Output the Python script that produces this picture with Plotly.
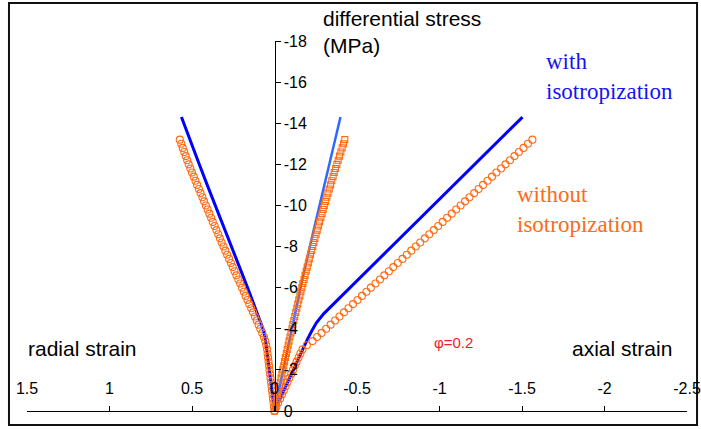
import plotly.graph_objects as go

# ---- triaxial loading, without isotropization (dense model output) ----
# differential stress at each step (MPa, compression negative)
stress_without = [
    0, -0.2, -0.4, -0.6, -0.8, -1.0, -1.2, -1.4, -1.6, -1.8,
    -2.0, -2.2, -2.4, -2.6, -2.8, -3.0, -3.2, -3.4, -3.6, -3.8,
    -4.0, -4.2, -4.4, -4.6, -4.8, -5.0, -5.2, -5.4, -5.6, -5.8,
    -6.0, -6.2, -6.4, -6.6, -6.8, -7.0, -7.2, -7.4, -7.6, -7.8,
    -8.0, -8.2, -8.4, -8.6, -8.8, -9.0, -9.2, -9.4, -9.6, -9.8,
    -10.0, -10.2, -10.4, -10.6, -10.8, -11.0, -11.2, -11.4, -11.6, -11.8,
    -12.0, -12.2, -12.4, -12.6, -12.8, -13.0, -13.2,
]
radial_without = [
    0, 0.003, 0.006, 0.009, 0.012, 0.015, 0.018, 0.021, 0.024, 0.027,
    0.030, 0.033, 0.036, 0.039, 0.042, 0.045, 0.050, 0.056, 0.064, 0.074,
    0.086, 0.097, 0.108, 0.119, 0.130, 0.141, 0.153, 0.164, 0.175, 0.186,
    0.197, 0.208, 0.219, 0.231, 0.242, 0.253, 0.264, 0.275, 0.287, 0.298,
    0.309, 0.320, 0.331, 0.341, 0.352, 0.363, 0.374, 0.384, 0.395, 0.405,
    0.416, 0.427, 0.437, 0.448, 0.458, 0.469, 0.479, 0.489, 0.500, 0.510,
    0.520, 0.529, 0.538, 0.547, 0.556, 0.565, 0.574,
]
volumetric_without = [
    0, -0.005, -0.010, -0.015, -0.019, -0.024, -0.030, -0.035, -0.040, -0.045,
    -0.050, -0.056, -0.061, -0.066, -0.072, -0.077, -0.083, -0.088, -0.094, -0.100,
    -0.106, -0.111, -0.117, -0.123, -0.129, -0.135, -0.141, -0.147, -0.154, -0.160,
    -0.166, -0.172, -0.179, -0.185, -0.192, -0.198, -0.205, -0.211, -0.218, -0.225,
    -0.232, -0.238, -0.245, -0.252, -0.259, -0.266, -0.273, -0.281, -0.288, -0.295,
    -0.302, -0.310, -0.317, -0.324, -0.332, -0.340, -0.347, -0.355, -0.362, -0.370,
    -0.378, -0.386, -0.394, -0.402, -0.410, -0.418, -0.426,
]
axial_without = [
    0, -0.011, -0.022, -0.034, -0.045, -0.056, -0.067, -0.078, -0.090, -0.101,
    -0.112, -0.123, -0.134, -0.146, -0.157, -0.170, -0.196, -0.231, -0.258, -0.285,
    -0.313, -0.340, -0.367, -0.394, -0.421, -0.448, -0.476, -0.503, -0.530, -0.557,
    -0.584, -0.612, -0.639, -0.666, -0.693, -0.720, -0.747, -0.775, -0.802, -0.829,
    -0.856, -0.883, -0.911, -0.938, -0.965, -0.992, -1.019, -1.046, -1.074, -1.101,
    -1.128, -1.155, -1.182, -1.210, -1.237, -1.264, -1.291, -1.318, -1.345, -1.373,
    -1.400, -1.427, -1.454, -1.481, -1.509, -1.536, -1.563,
]

# ---- with isotropization ----
stress_radial_with = [0, -1.5, -3.0, -3.6, -4.0, -5.0, -6.0, -7.0, -8.0, -9.0,
                      -10.0, -11.0, -12.0, -13.0, -14.3]
radial_with = [0, 0.022, 0.045, 0.057, 0.070, 0.115, 0.163, 0.212, 0.262, 0.311,
               0.360, 0.408, 0.456, 0.505, 0.564]

stress_volumetric_with = [0, -2.0, -4.0, -6.36, -8.0, -10.0, -12.0, -14.3]
volumetric_with = [0, -0.052, -0.104, -0.168, -0.214, -0.272, -0.331, -0.400]

stress_axial_with = [0, -1.5, -3.06, -3.5, -3.93, -4.3, -4.74, -6.0, -8.0, -10.0,
                     -12.0, -14.3]
axial_with = [0, -0.084, -0.176, -0.200, -0.228, -0.255, -0.299, -0.458, -0.711,
              -0.963, -1.216, -1.503]

# axis ticks
strain_ticks = [1.5, 1, 0.5, 0, -0.5, -1, -1.5, -2, -2.5]
strain_labels = ["1.5", "1", "0.5", "0", "-0.5", "-1", "-1.5", "-2", "-2.5"]
stress_ticks = [0, -2, -4, -6, -8, -10, -12, -14, -16, -18]
stress_labels = ["0", "-2", "-4", "-6", "-8", "-10", "-12", "-14", "-16", "-18"]

BLUE = "#0000ff"
LIGHT_BLUE = "#3366ff"
ORANGE = "#ff6a13"
SANS = "Liberation Sans, Arial, Helvetica, sans-serif"
SERIF = "Liberation Serif, Times New Roman, serif"

fig = go.Figure()

# model curves with isotropization (solid lines)
fig.add_trace(go.Scatter(x=radial_with, y=stress_radial_with, mode="lines",
                         line=dict(color=BLUE, width=3), cliponaxis=False))
fig.add_trace(go.Scatter(x=axial_with, y=stress_axial_with, mode="lines",
                         line=dict(color=BLUE, width=3), cliponaxis=False))
fig.add_trace(go.Scatter(x=volumetric_with, y=stress_volumetric_with, mode="lines",
                         line=dict(color=LIGHT_BLUE, width=2.5), cliponaxis=False))

# model curves without isotropization (open markers)
fig.add_trace(go.Scatter(x=radial_without, y=stress_without, mode="markers",
                         marker=dict(symbol="circle-open", size=7, color=ORANGE,
                                     line=dict(width=1.1, color=ORANGE)),
                         cliponaxis=False))
fig.add_trace(go.Scatter(x=axial_without, y=stress_without, mode="markers",
                         marker=dict(symbol="circle-open", size=7, color=ORANGE,
                                     line=dict(width=1.1, color=ORANGE)),
                         cliponaxis=False))
fig.add_trace(go.Scatter(x=volumetric_without, y=stress_without, mode="markers",
                         marker=dict(symbol="square-open", size=6, color=ORANGE,
                                     line=dict(width=1.1, color=ORANGE)),
                         cliponaxis=False))

annotations = [
    dict(text="differential stress<br>(MPa)", x=0.446, y=1.024, xanchor="left",
         yanchor="middle", align="left", font=dict(family=SANS, size=21, color="black")),
    dict(text="radial strain", x=-0.002, y=0.170, xanchor="left", yanchor="middle",
         font=dict(family=SANS, size=21, color="black")),
    dict(text="axial strain", x=0.823, y=0.170, xanchor="left", yanchor="middle",
         font=dict(family=SANS, size=21, color="black")),
    dict(text="φ=0.2", x=0.6455, y=0.184, xanchor="center", yanchor="middle",
         font=dict(family=SANS, size=15, color="#ee1c25")),
    dict(text="with<br>isotropization", x=0.784, y=0.903, xanchor="left",
         yanchor="middle", align="left", font=dict(family=SERIF, size=23, color="#1414f0")),
    dict(text="without<br>isotropization", x=0.740, y=0.545, xanchor="left",
         yanchor="middle", align="left", font=dict(family=SERIF, size=23, color=ORANGE)),
]
for a in annotations:
    a.update(xref="paper", yref="paper", showarrow=False)

fig.update_layout(
    width=701, height=429,
    margin=dict(l=27, r=14, t=41, b=18, pad=0),
    paper_bgcolor="white", plot_bgcolor="white",
    showlegend=False,
    annotations=annotations,
    shapes=[dict(type="rect", xref="paper", yref="paper",
                 x0=-0.0273, x1=1.0152, y0=-0.0378, y1=1.1027,
                 line=dict(color="#111111", width=2), layer="below")],
    xaxis=dict(range=[1.5, -2.5], tickvals=strain_ticks, ticktext=strain_labels,
               ticks="inside", ticklen=5, tickcolor="black",
               ticklabelposition="inside", ticklabeloverflow="allow",
               ticklabelstandoff=9,
               showline=True, linecolor="black", linewidth=1,
               showgrid=False, zeroline=False, automargin=False,
               tickfont=dict(family=SANS, size=16, color="black")),
    yaxis=dict(range=[0, -18], tickvals=stress_ticks, ticktext=stress_labels,
               anchor="free", position=0.375, side="right",
               ticks="outside", ticklen=5, tickcolor="black",
               showline=True, linecolor="black", linewidth=1,
               showgrid=False, zeroline=False, automargin=False,
               tickfont=dict(family=SANS, size=16, color="black")),
)

fig.write_html("out.html")
